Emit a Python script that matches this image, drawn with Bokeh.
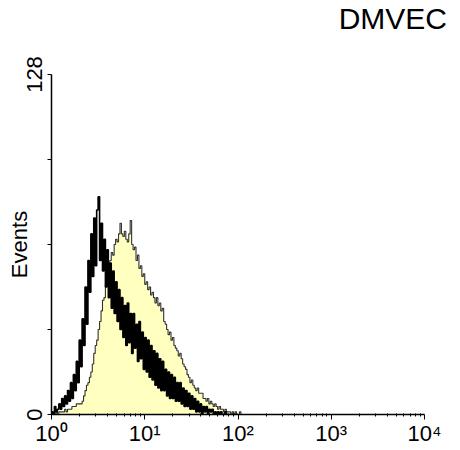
from bokeh.plotting import figure
from bokeh.models import Range1d, FixedTicker, Div
from bokeh.layouts import column
from bokeh.embed import file_html
from bokeh.resources import INLINE

# histogram channels: 64 channels per decade, starting at 10^0
channels_per_decade = 64

black_counts = [
    1, 0, 3, 1, 2, 4, 2, 6, 3, 7, 4, 9, 5, 12, 6, 15,
    9, 20, 12, 28, 18, 36, 26, 48, 34, 58, 46, 68, 52, 74, 56, 77,
    82, 58, 72, 54, 66, 48, 62, 44, 57, 40, 54, 38, 50, 35, 47, 32,
    44, 29, 41, 26, 42, 27, 38, 23, 38, 25, 34, 20, 35, 21, 31, 17,
    29, 16, 28, 14, 26, 13, 24, 11, 23, 10, 21, 9, 20, 9, 17, 7,
    16, 6, 15, 6, 14, 5, 12, 5, 12, 4, 10, 3, 9, 3, 8, 2,
    7, 2, 6, 1, 5, 1, 4, 0, 3, 1, 3, 0, 2, 1, 2, 0,
    1, 0, 1, 0, 1, 0, 0, 1, 0, 0, 0, 0, 0, 0, 0, 0,
]

yellow_counts = [
    0, 0, 0, 1, 0, 1, 1, 1, 1, 2, 1, 2, 2, 2, 3, 3,
    3, 4, 4, 4, 4, 5, 7, 9, 11, 12, 14, 16, 19, 23, 26, 28,
    32, 35, 39, 43, 44, 49, 51, 56, 58, 61, 60, 64, 66, 65, 68, 72,
    68, 67, 69, 66, 65, 68, 73, 64, 62, 63, 58, 60, 55, 56, 52, 53,
    49, 50, 47, 48, 45, 46, 44, 42, 44, 41, 42, 39, 40, 35, 34, 32,
    30, 31, 28, 29, 26, 25, 24, 22, 23, 21, 19, 18, 17, 15, 14, 12,
    13, 11, 10, 9, 10, 8, 8, 8, 6, 6, 5, 6, 4, 5, 4, 3,
    4, 3, 2, 3, 2, 2, 1, 2, 1, 1, 1, 0, 1, 0, 1, 0,
    0, 1, 0,
]

x_decades = [1, 10, 100, 1000, 10000]
x_tick_labels = ["10\u2070", "10\u00b9", "10\u00b2", "10\u00b3", "10\u2074"]
y_ticks = [0, 32, 64, 96, 128]
y_tick_labels = ["0", "", "", "", "128"]
title_text = "DMVEC"
y_label = "Events"

FONT = "Liberation Sans"


def step_path(counts):
    xs, ys = [1.0], [0]
    r = 1.0
    for i, c in enumerate(counts):
        l = 10 ** (i / channels_per_decade)
        r = 10 ** ((i + 1) / channels_per_decade)
        xs += [l, r]
        ys += [c, c]
    xs.append(r)
    ys.append(0)
    return xs, ys


title_div = Div(
    text=title_text, width=452, height=38,
    styles={"font-family": FONT, "font-size": "30px", "line-height": "38px",
            "text-align": "right", "padding-right": "5px", "color": "black",
            "margin": "0", "box-sizing": "border-box"},
)

p = figure(
    width=452, height=410,
    x_axis_type="log",
    x_range=Range1d(1, 10000), y_range=Range1d(0, 128),
    output_backend="svg", toolbar_location=None,
    min_border_left=51, min_border_right=28,
    min_border_top=36, min_border_bottom=31,
)
p.outline_line_color = None
p.xgrid.visible = False
p.ygrid.visible = False
p.background_fill_color = "white"
p.border_fill_color = "white"

yx, yy = step_path(yellow_counts)
p.varea(x=yx, y1=[0] * len(yy), y2=yy, fill_color="#FFFFBF")
p.line(yx, yy, line_color="#333333", line_width=1.1)

bx, by = step_path(black_counts)
p.line(bx, by, line_color="black", line_width=1.6)

# x axis
minor = [m * d for d in x_decades[:-1] for m in range(2, 10)]
xa = p.xaxis[0]
xa.ticker = FixedTicker(ticks=x_decades, minor_ticks=minor)
xa.major_label_overrides = {t: lab for t, lab in zip(x_decades, x_tick_labels)}
xa.axis_line_color = "black"
xa.axis_line_width = 1.5
xa.major_tick_in = 0
xa.major_tick_out = 5
xa.minor_tick_in = 1
xa.minor_tick_out = 2
xa.major_tick_line_color = "black"
xa.minor_tick_line_color = "black"
xa.major_label_text_font = FONT
xa.major_label_text_font_size = "22px"
xa.major_label_text_color = "black"
xa.major_label_standoff = 1

# y axis
ya = p.yaxis[0]
ya.ticker = FixedTicker(ticks=y_ticks)
ya.major_label_overrides = {t: lab for t, lab in zip(y_ticks, y_tick_labels)}
ya.axis_line_color = "black"
ya.axis_line_width = 1.5
ya.major_tick_in = 0
ya.major_tick_out = 4
ya.minor_tick_line_color = None
ya.major_tick_line_color = "black"
ya.major_label_orientation = "vertical"
ya.major_label_text_font = FONT
ya.major_label_text_font_size = "22px"
ya.major_label_text_color = "black"
ya.major_label_standoff = 6
ya.axis_label = y_label
ya.axis_label_text_font = FONT
ya.axis_label_text_font_size = "22px"
ya.axis_label_text_font_style = "normal"
ya.axis_label_text_color = "black"
ya.axis_label_standoff = -8

layout = column(title_div, p, spacing=0)
open("out.html", "w").write(file_html(layout, INLINE))
